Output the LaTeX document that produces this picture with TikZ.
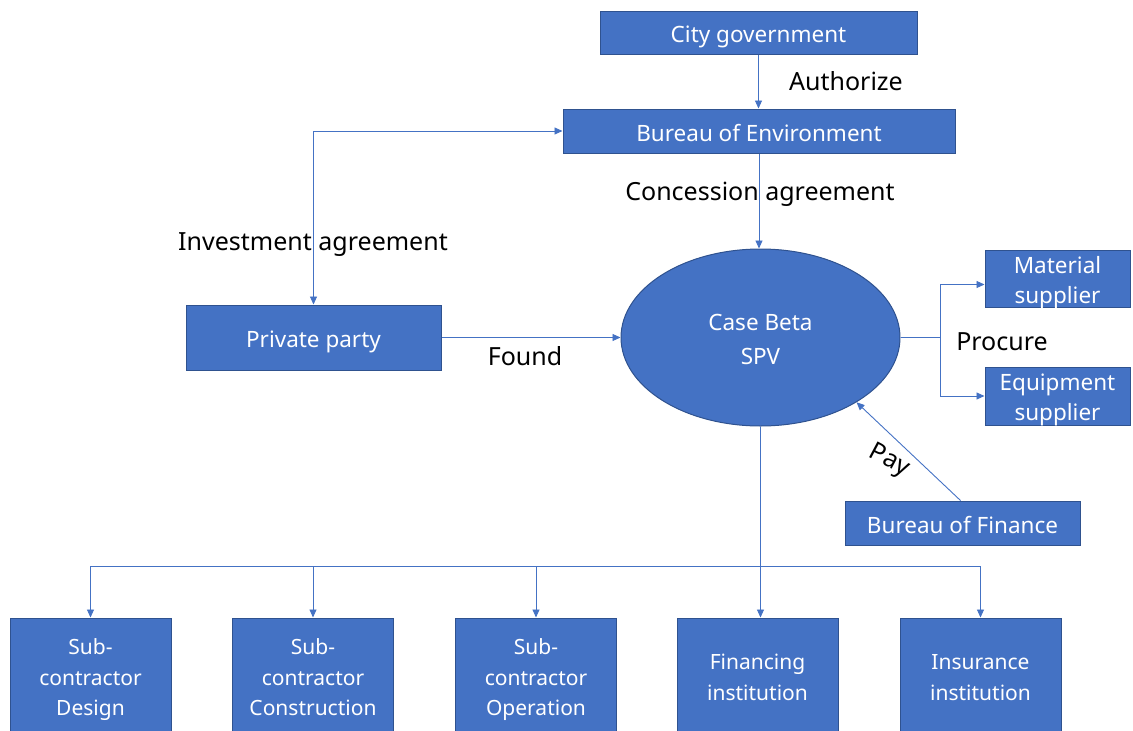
\documentclass[tikz,border=0pt]{standalone}
\usepackage{fontspec}
\setmainfont{Noto Sans}
\usetikzlibrary{shapes.geometric,arrows.meta}
\definecolor{boxfill}{HTML}{4472C4}
\definecolor{boxedge}{HTML}{2F528F}
\definecolor{wire}{HTML}{4472C4}
% fixed line height and depth, so every one-line box sets its text alike
\newcommand\tophold[1]{\vrule width0pt height#1 depth0pt\relax}
\newcommand\bothold{\vrule width0pt height0pt depth6pt\relax}
% several centred lines, the first row raised to #1
\newcommand\cellstack[2]{\begin{tabular}{@{}c@{}}\rule{0pt}{#1}#2\end{tabular}}
% several centred lines that take no room, shifted by #1 (for small boxes)
\newcommand\flatstack[2]{\raisebox{#1}[0pt][0pt]{\begin{tabular}{@{}c@{}}#2\end{tabular}}}
\tikzset{
  basebox/.style={draw=boxedge, line width=1pt, fill=boxfill, text=white, inner sep=0pt,
                  font=\fontsize{22.5}{30}\selectfont},
  box/.style={basebox, align=center,
              execute at begin node={\tophold{26pt}}, execute at end node={\bothold}},
  spvbox/.style={basebox, ellipse, font=\fontsize{22.5}{34}\selectfont},
  lowbox/.style={basebox, minimum width=161pt, minimum height=122pt,
                 font=\fontsize{21}{30.5}\selectfont},
  lbl/.style={text=black, inner sep=0pt, font=\fontsize{25}{30}\selectfont},
  wirestyle/.style={draw=wire, line width=0.9pt},
  arr/.style={wirestyle, -{Triangle[length=8pt,width=7pt]}},
  darr/.style={wirestyle, {Triangle[length=8pt,width=7pt]}-{Triangle[length=8pt,width=7pt]}}
}
\begin{document}
\begin{tikzpicture}[x=1pt,y=-1pt]
\useasboundingbox (0,0) rectangle (1133,731);
\clip (0,0) rectangle (1133,731);

% upper chain
\node[box, minimum width=317pt, minimum height=43pt] (city) at (758.5,32.5) {City government};
\node[box, minimum width=392pt, minimum height=44pt] (benv) at (759,131) {Bureau of Environment};
\node[spvbox, minimum width=279pt, minimum height=177pt] (spv) at (760.5,337.5)
  {\cellstack{30.6pt}{Case Beta\\SPV}};
\node[box, minimum width=255pt, minimum height=65pt] (priv) at (313.5,337.5) {Private party};

% suppliers and finance
\node[basebox, minimum width=145pt, minimum height=57pt] (mat) at (1057.5,278.5)
  {\flatstack{-9.1pt}{Material\\supplier}};
\node[basebox, minimum width=145pt, minimum height=58pt] (equ) at (1057.5,396)
  {\flatstack{-9.1pt}{Equipment\\supplier}};
\node[box, minimum width=235pt, minimum height=44pt] (fin) at (962.5,523) {Bureau of Finance};

% lower row
\node[lowbox] (sdes) at (90.5,679) {\cellstack{21.4pt}{Sub-\\contractor\\Design}};
\node[lowbox] (scon) at (313,679) {\cellstack{21.4pt}{Sub-\\contractor\\Construction}};
\node[lowbox] (sope) at (536,679) {\cellstack{21.4pt}{Sub-\\contractor\\Operation}};
\node[lowbox] (fini) at (757.5,679) {\cellstack{21.4pt}{Financing\\institution}};
\node[lowbox] (insi) at (980.5,679) {\cellstack{21.4pt}{Insurance\\institution}};

% connectors
\draw[arr] (city.south) -- (city.south |- benv.north);
\draw[arr] (benv.south) -- (benv.south |- spv.north);
\draw[darr] (priv.north) |- (benv.west);
\draw[arr] (priv.east) -- (spv.west);

\coordinate (pc) at (940,337.5);
\draw[wirestyle] (spv.east) -- (pc);
\draw[arr] (pc) |- ([yshift=-6pt]mat.west);
\draw[arr] (pc) |- (equ.west);

\draw[arr] ([xshift=-2pt]fin.north) -- (spv.-34);

\coordinate (bus) at (760,566);
\draw[arr] (spv.south) -- (spv.south |- fini.north);
\draw[wirestyle] (sdes.north |- bus) -- (insi.north |- bus);
\foreach \b in {sdes,scon,sope,insi}
  \draw[arr] (\b.north |- bus) -- (\b.north);

% connector labels
\node[lbl] (tauth) at (846,81) {Authorize};
\node[lbl] (tconc) at (760,194) {Concession agreement};
\node[lbl] (tinv) at (313,245) {Investment agreement};
\node[lbl] (tfound) at (525,356) {Found};
\node[lbl] (tproc) at (1002,342) {Procure};
\node[lbl, rotate=-28] (tpay) at (889,461) {Pay};
\end{tikzpicture}
\end{document}
